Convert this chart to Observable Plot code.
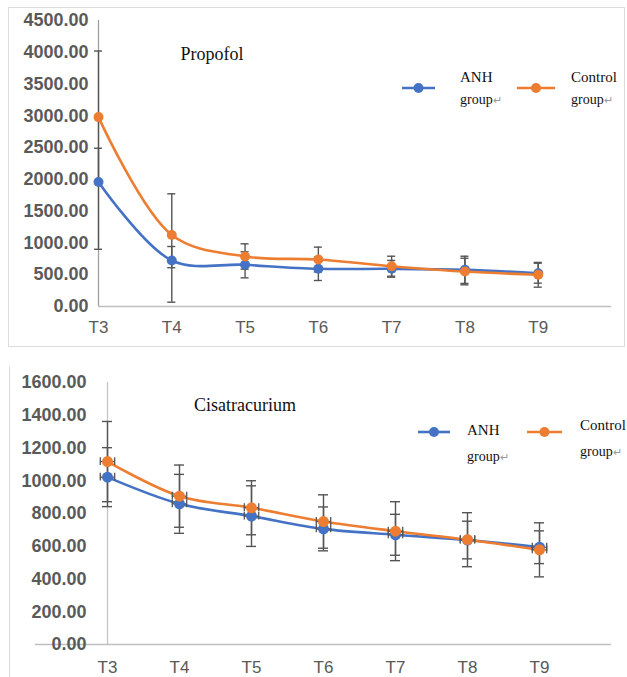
<!DOCTYPE html>
<html>
<head>
<meta charset="utf-8">
<script src="https://cdn.jsdelivr.net/npm/d3@7"></script>
<script src="https://cdn.jsdelivr.net/npm/@observablehq/plot@0.6"></script>
<style>
  html, body { margin: 0; padding: 0; background: #fff; }
  #page { position: relative; width: 627px; height: 677px; overflow: hidden; background: #fff; }
  .chart { position: absolute; left: 0; }
  .frameTop { position: absolute; left: 8px; top: 7px; width: 617px; height: 340px; border: 1px solid #dcdcdc; box-sizing: border-box; }
  .frameBot { position: absolute; left: 9px; top: 366px; width: 1px; height: 311px; background: #dcdcdc; }
  .ttl { position: absolute; font-family: "Liberation Serif", "Times New Roman", serif; font-size: 18px; color: #111; line-height: 1; white-space: nowrap; transform: translateX(-50%); }
  .lg { position: absolute; font-family: "Liberation Serif", "Times New Roman", serif; color: #111; line-height: 1; white-space: nowrap; }
  .lg1 { font-size: 15px; }
  .lg2 { font-size: 14px; }
  .ret { color: #9a9a9a; font-size: 11px; }
  .key { position: absolute; }
</style>
</head>
<body>
<div id="page">
  <div class="frameTop"></div>
  <div class="frameBot"></div>
</div>
<script>
// ---------- data ----------
const timePoints = ["T3", "T4", "T5", "T6", "T7", "T8", "T9"];
const groups = ["ANH group", "Control group"];
const colors = ["#4472C4", "#ED7D31"];

// Propofol (top panel)
const propTicks = [0, 500, 1000, 1500, 2000, 2500, 3000, 3500, 4000, 4500];
const propAnhMean = [1960, 724, 656, 593, 593, 577, 524];
const propAnhLow  = [900, 68, 451, 409, 461, 363, 367];
const propAnhHigh = [2490, 944, 861, 778, 725, 791, 681];
const propCtrlMean = [2980, 1125, 787, 739, 634, 550, 499];
const propCtrlLow  = [1940, 610, 587, 544, 477, 341, 304];
const propCtrlHigh = [4020, 1773, 986, 934, 791, 759, 694];

// Cisatracurium (bottom panel)
const cisTicks = [0, 200, 400, 600, 800, 1000, 1200, 1400, 1600];
const cisAnhMean = [1022, 859, 784, 706, 670, 638, 594];
const cisAnhSD   = [180, 180, 185, 134, 125, 115, 100];
const cisCtrlMean = [1117, 906, 835, 751, 692, 640, 578];
const cisCtrlSD   = [245, 190, 165, 163, 180, 165, 165];

// ---------- build rows ----------
function buildRows(aMean, aLo, aHi, cMean, cLo, cHi) {
  const out = [];
  timePoints.forEach((t, i) => out.push({i, t, group: groups[0], mean: aMean[i], lo: aLo[i], hi: aHi[i]}));
  timePoints.forEach((t, i) => out.push({i, t, group: groups[1], mean: cMean[i], lo: cLo[i], hi: cHi[i]}));
  return out;
}
const propRows = buildRows(propAnhMean, propAnhLow, propAnhHigh, propCtrlMean, propCtrlLow, propCtrlHigh);
const cisRows = buildRows(
  cisAnhMean, cisAnhMean.map((m, i) => m - cisAnhSD[i]), cisAnhMean.map((m, i) => m + cisAnhSD[i]),
  cisCtrlMean, cisCtrlMean.map((m, i) => m - cisCtrlSD[i]), cisCtrlMean.map((m, i) => m + cisCtrlSD[i])
);

const sansBold = "'Liberation Sans', Arial, sans-serif";
const narrow = "'Liberation Sans Narrow', 'Liberation Sans', Arial, sans-serif";

function chart(o) {
  const errC = "#555555";
  const marks = [
    Plot.ruleX([0], {y1: 0, y2: o.yMax, stroke: o.vAxisColor, strokeWidth: 1.3}),
    Plot.ruleY([0], {x1: o.xAxisStart, x2: 7, stroke: "#bfbfbf", strokeWidth: 1.6}),
    Plot.text(o.ticks, {x: 0, y: d => d, text: d => d.toFixed(2), textAnchor: "end", dx: -o.tickPad,
      fontSize: 18, fontWeight: "bold", fill: "#5a5a5a", fontFamily: sansBold}),
    Plot.text(timePoints, {x: (d, i) => i, y: 0, text: d => d, dy: o.xLabDy, fontSize: 17,
      fill: "#595959", fontFamily: narrow}),
    Plot.line(o.rows, {x: "i", y: "mean", z: "group", stroke: "group", curve: "catmull-rom", strokeWidth: 2.6}),
    Plot.ruleX(o.rows, {x: "i", y1: "lo", y2: "hi", stroke: errC, strokeWidth: 1.4}),
    Plot.ruleY(o.rows, {y: "lo", x1: d => d.i - o.cap, x2: d => d.i + o.cap, stroke: errC, strokeWidth: 1.4}),
    Plot.ruleY(o.rows, {y: "hi", x1: d => d.i - o.cap, x2: d => d.i + o.cap, stroke: errC, strokeWidth: 1.4})
  ];
  if (o.xErr) {
    marks.push(
      Plot.ruleY(o.rows, {y: "mean", x1: d => d.i - o.xErr, x2: d => d.i + o.xErr, stroke: errC, strokeWidth: 1.3}),
      Plot.ruleX(o.rows, {x: d => d.i - o.xErr, y1: d => d.mean - o.xCapH, y2: d => d.mean + o.xCapH, stroke: errC, strokeWidth: 1.3}),
      Plot.ruleX(o.rows, {x: d => d.i + o.xErr, y1: d => d.mean - o.xCapH, y2: d => d.mean + o.xCapH, stroke: errC, strokeWidth: 1.3})
    );
  }
  marks.push(Plot.dot(o.rows, {x: "i", y: "mean", fill: "group", r: o.r}));
  return Plot.plot({
    width: 627, height: o.height,
    marginLeft: o.marginLeft, marginRight: 16, marginTop: o.marginTop, marginBottom: o.marginBottom,
    x: {domain: [0, 7], axis: null},
    y: {domain: [0, o.yMax], axis: null},
    color: {domain: groups, range: colors},
    style: {background: "transparent", overflow: "visible"},
    marks
  });
}

const page = document.getElementById("page");

const topChart = chart({rows: propRows, ticks: propTicks, yMax: 4500, height: 350, marginLeft: 98,
  marginTop: 20, marginBottom: 44, tickPad: 10, xLabDy: 21, cap: 0.055, r: 5,
  vAxisColor: "#a0a0a0", xAxisStart: 0});
topChart.classList.add("chart"); topChart.style.top = "0px";
page.appendChild(topChart);

const botChart = chart({rows: cisRows, ticks: cisTicks, yMax: 1600, height: 327, marginLeft: 107,
  marginTop: 32, marginBottom: 33, tickPad: 21, xLabDy: 23, cap: 0.07, r: 5.5,
  vAxisColor: "#c4c4c4", xAxisStart: -1, xErr: 0.1, xCapH: 24});
botChart.classList.add("chart"); botChart.style.top = "350px";
page.appendChild(botChart);

// ---------- titles & legends ----------
function addText(cls, html, left, baseline, size) {
  const d = document.createElement("div");
  d.className = cls;
  d.innerHTML = html;
  d.style.left = left + "px";
  d.style.top = (baseline - size * 0.89) + "px";
  page.appendChild(d);
}
function addKey(x1, x2, y, color) {
  const ns = "http://www.w3.org/2000/svg";
  const s = document.createElementNS(ns, "svg");
  s.setAttribute("class", "key");
  s.setAttribute("width", x2 - x1 + 12);
  s.setAttribute("height", 14);
  s.style.left = (x1 - 6) + "px";
  s.style.top = (y - 7) + "px";
  s.innerHTML = `<line x1="6" x2="${x2 - x1 + 6}" y1="7" y2="7" stroke="${color}" stroke-width="2.6"/>` +
    `<circle cx="${(x2 - x1) / 2 + 6}" cy="7" r="5" fill="${color}"/>`;
  page.appendChild(s);
}

addText("ttl", "Propofol", 212, 61, 18);
addText("ttl", "Cisatracurium", 245, 412, 18);

// top legend
addKey(402, 435, 88, colors[0]);
addText("lg lg1", "ANH", 460, 83, 15);
addText("lg lg2", "group<span class='ret'>\u21B5</span>", 460, 105, 14);
addKey(517, 555, 88, colors[1]);
addText("lg lg1", "Control", 571, 83, 15);
addText("lg lg2", "group<span class='ret'>\u21B5</span>", 571, 105, 14);

// bottom legend
addKey(418, 450, 432, colors[0]);
addText("lg lg1", "ANH", 467, 436, 15);
addText("lg lg2", "group<span class='ret'>\u21B5</span>", 467, 462, 14);
addKey(527, 562, 432, colors[1]);
addText("lg lg1", "Control", 580, 431, 15);
addText("lg lg2", "group<span class='ret'>\u21B5</span>", 580, 457, 14);
</script>
</body>
</html>
